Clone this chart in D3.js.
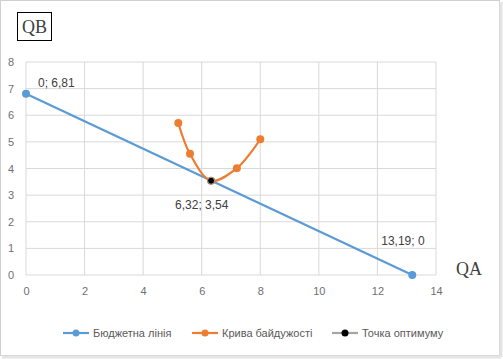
<!DOCTYPE html>
<html lang="uk">
<head>
<meta charset="UTF-8">
<title>QA / QB</title>
<script src="https://d3js.org/d3.v7.min.js"></script>
<style>
  body { margin: 0; background: #fff; }
  text { font-family: "Liberation Sans Narrow", "Arial Narrow", "Liberation Sans", sans-serif; }
</style>
</head>
<body>
<div id="chart"></div>
<script>
    // budget line
    const budgetX = [0, 13.19];
    const budgetY = [6.81, 0];
    // indifference curve
    const curveX = [5.2, 5.6, 6.32, 7.2, 8.0];
    const curveY = [5.71, 4.55, 3.54, 4.01, 5.1];
    // optimum
    const optX = [6.32];
    const optY = [3.54];
    const xTicks = [0, 2, 4, 6, 8, 10, 12, 14];
    const yTicks = [0, 1, 2, 3, 4, 5, 6, 7, 8];
    const seriesNames = ["Бюджетна лінія", "Крива байдужості", "Точка оптимуму"];
    const pointLabels = ["0; 6,81", "6,32; 3,54", "13,19; 0"];

    const width = 503, height = 359;
    const margin = { left: 26, right: 67, top: 62, bottom: 84 };

    const svg = d3.select("#chart").append("svg")
        .attr("width", width)
        .attr("height", height);

    // outer frame
    svg.append("rect")
        .attr("x", 0.5).attr("y", 0.5)
        .attr("width", width - 4).attr("height", height - 4)
        .attr("fill", "#fff")
        .attr("stroke", "#d0d0d0");
    svg.append("line").attr("x1", 2).attr("x2", width - 2).attr("y1", height - 2).attr("y2", height - 2)
        .attr("stroke", "#e4e4e4").attr("stroke-width", 3);
    svg.append("line").attr("x1", width - 2).attr("x2", width - 2).attr("y1", 2).attr("y2", height - 2)
        .attr("stroke", "#e4e4e4").attr("stroke-width", 3);

    const x = d3.scaleLinear().domain([0, 14]).range([margin.left, width - margin.right]);
    const y = d3.scaleLinear().domain([0, 8]).range([height - margin.bottom, margin.top]);

    // grid
    svg.append("g").selectAll("line").data(xTicks).join("line")
        .attr("x1", d => x(d)).attr("x2", d => x(d))
        .attr("y1", y(0)).attr("y2", y(8))
        .attr("stroke", "#d9d9d9");
    svg.append("g").selectAll("line").data(yTicks).join("line")
        .attr("x1", x(0)).attr("x2", x(14))
        .attr("y1", d => y(d)).attr("y2", d => y(d))
        .attr("stroke", "#d9d9d9");

    // axes (labels only)
    const xAxis = svg.append("g")
        .attr("transform", `translate(0,${y(0)})`)
        .call(d3.axisBottom(x).tickValues(xTicks).tickSize(0).tickPadding(12));
    const yAxis = svg.append("g")
        .attr("transform", `translate(${x(0)},0)`)
        .call(d3.axisLeft(y).tickValues(yTicks).tickSize(0).tickPadding(12));
    [xAxis, yAxis].forEach(a => {
        a.select(".domain").remove();
        a.selectAll("text").attr("fill", "#6f6f6f").style("font-size", "11px")
            .style("font-family", "'Liberation Sans Narrow', 'Arial Narrow', sans-serif");
    });

    const blue = "#5b9bd5", orange = "#ed7d31";
    const line = d3.line().x(d => x(d[0])).y(d => y(d[1]));
    const smooth = d3.line().x(d => x(d[0])).y(d => y(d[1])).curve(d3.curveCatmullRom.alpha(0.5));

    const budget = budgetX.map((v, i) => [v, budgetY[i]]);
    const curve = curveX.map((v, i) => [v, curveY[i]]);
    const opt = optX.map((v, i) => [v, optY[i]]);

    svg.append("path").datum(budget).attr("d", line)
        .attr("fill", "none").attr("stroke", blue).attr("stroke-width", 2.2);
    svg.append("g").selectAll("circle").data(budget).join("circle")
        .attr("cx", d => x(d[0])).attr("cy", d => y(d[1])).attr("r", 4)
        .attr("fill", blue);

    svg.append("path").datum(curve).attr("d", smooth)
        .attr("fill", "none").attr("stroke", orange).attr("stroke-width", 2.2);
    svg.append("g").selectAll("circle").data(curve).join("circle")
        .attr("cx", d => x(d[0])).attr("cy", d => y(d[1])).attr("r", 4)
        .attr("fill", orange);

    svg.append("g").selectAll("circle").data(opt).join("circle")
        .attr("cx", d => x(d[0])).attr("cy", d => y(d[1])).attr("r", 3.5)
        .attr("fill", "#000").attr("stroke", "#a5a5a5").attr("stroke-width", 1);

    // data labels
    const labelPts = [[budget[0], 12, -7], [opt[0], -36, 28], [budget[1], -31, -30]];
    svg.append("g").selectAll("text").data(labelPts).join("text")
        .attr("x", d => x(d[0][0]) + d[1])
        .attr("y", d => y(d[0][1]) + d[2])
        .attr("fill", "#404040")
        .style("font-size", "12px")
        .text((d, i) => pointLabels[i]);

    // axis names
    svg.append("rect").attr("x", 17.5).attr("y", 12.5).attr("width", 34).attr("height", 28)
        .attr("fill", "#fff").attr("stroke", "#000");
    svg.append("text").attr("x", 34.5).attr("y", 33).attr("text-anchor", "middle")
        .style("font-family", "'Liberation Serif', 'Times New Roman', serif")
        .style("font-size", "18px").attr("fill", "#404040").text("QB");
    svg.append("text").attr("x", 456).attr("y", 275)
        .style("font-family", "'Liberation Serif', 'Times New Roman', serif")
        .style("font-size", "18px").attr("fill", "#404040").text("QA");

    // legend
    const legendColors = [blue, orange, "#a5a5a5"];
    const markerColors = [blue, orange, "#000"];
    const legendX = [63, 192, 332];
    const lg = svg.append("g").selectAll("g").data(seriesNames).join("g")
        .attr("transform", (d, i) => `translate(${legendX[i]},333)`);
    lg.append("line").attr("x1", 0).attr("x2", 26).attr("y1", 0).attr("y2", 0)
        .attr("stroke", (d, i) => legendColors[i]).attr("stroke-width", 2.2);
    lg.append("circle").attr("cx", 13).attr("cy", 0).attr("r", 3.5)
        .attr("fill", (d, i) => markerColors[i]);
    lg.append("text").attr("x", 30).attr("y", 4)
        .attr("fill", "#595959").style("font-size", "11px")
        .text(d => d);
</script>
</body>
</html>
